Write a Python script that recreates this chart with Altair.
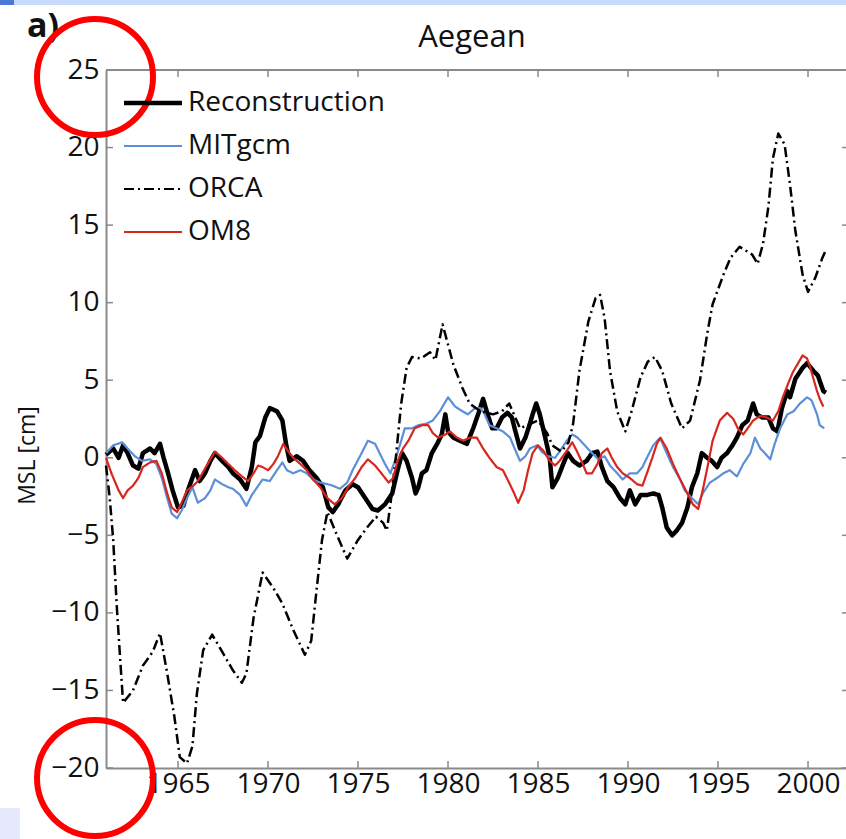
import altair as alt
import pandas as pd

# ---------------- data ----------------
rec_year = [1961.0, 1961.4, 1961.7, 1961.95, 1962.2, 1962.5, 1962.8, 1963.05, 1963.45, 1963.7,
            1964.0, 1964.2, 1964.45, 1964.7, 1965.0, 1965.3, 1965.55, 1965.95, 1966.2, 1966.5,
            1966.8, 1967.05, 1967.45, 1967.8, 1968.05, 1968.45, 1968.8, 1969.1, 1969.3, 1969.55,
            1969.85, 1970.1, 1970.5, 1970.8, 1971.0, 1971.2, 1971.6, 1971.95, 1972.3, 1972.7,
            1973.05, 1973.35, 1973.6, 1973.9, 1974.3, 1974.7, 1975.0, 1975.4, 1975.8, 1976.1,
            1976.5, 1976.9, 1977.2, 1977.45, 1977.7, 1978.0, 1978.2, 1978.35, 1978.55, 1978.8,
            1979.1, 1979.4, 1979.65, 1979.85, 1980.0, 1980.3, 1980.65, 1981.05, 1981.4, 1981.7,
            1981.95, 1982.2, 1982.45, 1982.7, 1983.0, 1983.3, 1983.55, 1983.7, 1984.0, 1984.3,
            1984.55, 1984.7, 1984.9, 1985.1, 1985.4, 1985.65, 1985.8, 1986.1, 1986.4, 1986.65,
            1986.95, 1987.3, 1987.7, 1988.0, 1988.3, 1988.55, 1988.85, 1989.2, 1989.55, 1989.85,
            1990.1, 1990.4, 1990.7, 1991.05, 1991.4, 1991.7, 1991.9, 1992.15, 1992.45, 1992.7,
            1993.0, 1993.3, 1993.55, 1993.85, 1994.1, 1994.4, 1994.65, 1994.95, 1995.2, 1995.5,
            1995.8, 1996.05, 1996.35, 1996.65, 1996.95, 1997.15, 1997.45, 1997.8, 1998.05, 1998.3,
            1998.55, 1998.85, 1999.0, 1999.3, 1999.7, 1999.95, 2000.3, 2000.55, 2000.85, 2001.0]
rec_val = [0.2, 0.6, 0.0, 0.8, 0.3, -0.5, -0.7, 0.3, 0.6, 0.3,
           0.9, 0.0, -1.0, -2.1, -3.2, -3.1, -2.1, -0.8, -1.5, -1.0,
           -0.2, 0.3, -0.2, -0.6, -1.0, -1.4, -2.0, -0.6, 1.0, 1.4,
           2.6, 3.2, 3.0, 2.4, 0.9, -0.2, 0.1, -0.2, -0.8, -1.3,
           -1.9, -3.2, -3.5, -3.0, -2.1, -1.7, -1.9, -2.6, -3.3, -3.4,
           -3.0, -2.3, -0.8, 0.3, -0.2, -1.3, -2.3, -1.9, -1.0, -0.8,
           0.3, 0.9, 1.5, 2.8, 1.7, 1.3, 1.1, 0.9, 1.9, 2.9,
           3.8, 2.8, 1.9, 1.9, 2.6, 2.9, 2.6, 1.9, 0.6, 1.3,
           2.2, 2.8, 3.5, 2.8, 1.3, 0.0, -1.9, -1.3, -0.4, 0.3,
           -0.2, -0.5, -0.2, 0.3, 0.4, -0.6, -1.5, -1.9, -2.6, -3.0,
           -2.1, -3.0, -2.4, -2.4, -2.3, -2.4, -3.2, -4.5, -5.0, -4.7,
           -4.2, -3.2, -1.9, -1.0, 0.3, 0.0, -0.2, -0.6, 0.0, 0.3,
           0.8, 1.3, 2.1, 2.4, 3.5, 2.8, 2.6, 2.6, 1.9, 1.7,
           3.2, 4.3, 3.9, 5.1, 5.8, 6.1, 5.6, 5.3, 4.3, 4.2]

mit_year = [1961.0, 1961.4, 1961.9, 1962.2, 1962.6, 1963.0, 1963.45, 1963.8, 1964.1, 1964.4,
            1964.65, 1964.95, 1965.2, 1965.5, 1965.8, 1966.1, 1966.5, 1966.8, 1967.05, 1967.45,
            1967.8, 1968.05, 1968.45, 1968.8, 1969.1, 1969.4, 1969.7, 1970.1, 1970.5, 1970.8,
            1971.05, 1971.4, 1971.8, 1972.15, 1972.5, 1972.9, 1973.3, 1973.6, 1974.0, 1974.4,
            1974.7, 1975.2, 1975.55, 1975.95, 1976.2, 1976.5, 1976.8, 1977.05, 1977.35, 1977.6,
            1978.0, 1978.35, 1978.8, 1979.15, 1979.55, 1980.0, 1980.4, 1980.8, 1981.1, 1981.5,
            1981.8, 1982.0, 1982.3, 1982.7, 1983.05, 1983.45, 1983.7, 1984.0, 1984.3, 1984.55,
            1984.95, 1985.2, 1985.55, 1985.95, 1986.2, 1986.6, 1986.9, 1987.2, 1987.6, 1988.0,
            1988.35, 1988.7, 1989.0, 1989.4, 1989.7, 1990.1, 1990.5, 1990.8, 1991.05, 1991.4,
            1991.7, 1991.85, 1992.15, 1992.5, 1992.9, 1993.15, 1993.55, 1993.9, 1994.15, 1994.55,
            1994.95, 1995.3, 1995.65, 1996.05, 1996.4, 1996.8, 1997.05, 1997.35, 1997.6, 1997.9,
            1998.15, 1998.45, 1998.85, 1999.2, 1999.55, 1999.95, 2000.2, 2000.5, 2000.65, 2000.9]
mit_val = [0.3, 0.8, 1.0, 0.6, 0.1, -0.2, -0.1, -0.4, -1.3, -2.6,
           -3.6, -3.9, -3.4, -2.6, -1.9, -2.9, -2.6, -2.1, -1.4, -1.7,
           -1.9, -2.0, -2.4, -3.1, -2.4, -1.9, -1.4, -1.5, -0.8, -0.3,
           -0.8, -1.0, -0.8, -1.0, -1.4, -1.6, -1.7, -1.8, -2.0, -1.6,
           -0.8, 0.3, 1.1, 0.9, 0.3, -0.4, -1.0, -0.2, 0.9, 1.9,
           1.9, 2.1, 2.2, 2.4, 3.0, 3.9, 3.3, 3.0, 2.8, 3.2,
           3.2, 2.9, 2.1, 1.9, 1.7, 1.3, 0.6, -0.2, 0.1, 0.6,
           0.8, 0.4, 0.1, 0.0, 0.4, 1.1, 1.5, 1.3, 0.8, 0.3,
           -0.1, 0.1, -0.5, -1.0, -1.4, -1.0, -1.0, -0.6, 0.0, 0.8,
           1.2, 1.1, 0.3, -0.6, -1.4, -2.1, -2.6, -3.0, -2.3, -1.6,
           -1.3, -1.0, -0.8, -1.2, -0.4, 0.3, 1.3, 0.6, 0.3, -0.1,
           0.9, 1.9, 2.8, 3.0, 3.5, 3.9, 3.7, 2.8, 2.1, 1.9]

orca_year = [1961.0, 1961.2, 1961.4, 1961.6, 1961.8, 1961.95, 1962.5, 1963.05, 1963.6, 1964.0,
             1964.4, 1964.8, 1965.1, 1965.5, 1965.8, 1966.05, 1966.4, 1966.9, 1967.5, 1968.05,
             1968.55, 1968.8, 1969.2, 1969.7, 1970.3, 1970.8, 1971.4, 1972.05, 1972.4, 1972.7,
             1973.0, 1973.3, 1973.8, 1974.4, 1975.0, 1975.5, 1976.0, 1976.4, 1976.6, 1976.8,
             1977.1, 1977.4, 1977.7, 1978.0, 1978.5, 1979.0, 1979.3, 1979.7, 1980.3, 1980.8,
             1981.2, 1981.8, 1982.5, 1983.0, 1983.4, 1984.0, 1984.6, 1985.0, 1985.5, 1985.8,
             1986.3, 1986.7, 1986.95, 1987.3, 1987.8, 1988.2, 1988.45, 1988.7, 1989.0, 1989.4,
             1989.85, 1990.2, 1990.7, 1991.1, 1991.5, 1991.9, 1992.4, 1993.0, 1993.45, 1994.0,
             1994.4, 1994.7, 1995.3, 1995.7, 1996.2, 1996.9, 1997.2, 1997.5, 1997.8, 1998.05,
             1998.35, 1998.7, 1999.0, 1999.3, 1999.7, 2000.0, 2000.4, 2000.8, 2001.0]
orca_val = [-0.5, -2.5, -5.3, -9.6, -13.2, -15.8, -15.0, -13.4, -12.5, -11.3,
            -13.9, -16.7, -19.3, -19.7, -18.6, -15.2, -12.4, -11.4, -12.6, -13.7,
            -14.5, -13.9, -10.3, -7.4, -8.4, -9.4, -11.1, -12.7, -11.8, -8.5,
            -5.3, -3.5, -4.9, -6.5, -5.3, -4.5, -3.8, -4.2, -4.7, -3.0,
            0.0, 3.5, 5.8, 6.5, 6.4, 6.8, 6.3, 8.6, 6.0, 4.5,
            3.5, 3.0, 2.8, 3.0, 3.5, 1.9, 2.2, 2.4, 1.6, 0.8,
            0.4, 1.0, 2.2, 5.6, 8.8, 10.3, 10.5, 9.0, 5.6, 3.0,
            1.7, 3.0, 5.2, 6.2, 6.5, 5.6, 3.5, 1.9, 2.4, 5.0,
            8.0, 9.9, 11.8, 12.9, 13.6, 13.1, 12.5, 13.8, 16.2, 19.3,
            20.9, 20.2, 17.6, 14.6, 11.8, 10.7, 11.6, 12.9, 13.4]

om8_year = [1961.0, 1961.3, 1961.7, 1961.95, 1962.2, 1962.5, 1962.8, 1963.05, 1963.45, 1963.8,
            1964.1, 1964.4, 1964.65, 1964.95, 1965.2, 1965.5, 1965.85, 1966.1, 1966.5, 1966.8,
            1967.05, 1967.45, 1967.8, 1968.15, 1968.55, 1968.9, 1969.2, 1969.45, 1969.7, 1970.0,
            1970.3, 1970.55, 1970.85, 1971.1, 1971.4, 1971.8, 1972.15, 1972.5, 1972.9, 1973.3,
            1973.7, 1974.1, 1974.45, 1974.85, 1975.2, 1975.55, 1975.95, 1976.3, 1976.7, 1976.95,
            1977.2, 1977.5, 1977.8, 1978.15, 1978.55, 1978.9, 1979.15, 1979.45, 1979.85, 1980.1,
            1980.5, 1980.85, 1981.2, 1981.6, 1981.95, 1982.3, 1982.7, 1983.05, 1983.35, 1983.6,
            1983.9, 1984.2, 1984.45, 1984.7, 1985.0, 1985.3, 1985.65, 1985.95, 1986.2, 1986.6,
            1986.9, 1987.15, 1987.45, 1987.7, 1988.0, 1988.3, 1988.55, 1988.85, 1989.1, 1989.4,
            1989.7, 1990.1, 1990.5, 1990.8, 1991.05, 1991.35, 1991.6, 1991.8, 1992.15, 1992.5,
            1992.9, 1993.3, 1993.6, 1993.9, 1994.15, 1994.45, 1994.7, 1995.1, 1995.5, 1995.85,
            1996.1, 1996.4, 1996.65, 1996.95, 1997.35, 1997.7, 1998.05, 1998.35, 1998.6, 1998.9,
            1999.15, 1999.45, 1999.7, 1999.95, 2000.1, 2000.3, 2000.5, 2000.65, 2000.85]
om8_val = [0.0, -1.0, -2.1, -2.6, -2.1, -1.8, -1.3, -0.6, -0.3, -0.2,
           -1.0, -2.3, -3.2, -3.5, -2.9, -2.1, -1.8, -1.5, -0.7, -0.1,
           0.4, 0.0, -0.4, -0.8, -1.2, -1.5, -1.0, -0.5, -0.6, -0.8,
           -0.4, 0.1, 0.9, 0.45, 0.0, -0.4, -0.8, -1.4, -1.9, -2.6,
           -3.0, -2.6, -1.9, -1.3, -0.6, -0.1, -0.5, -1.0, -1.6, -1.3,
           -0.2, 0.6, 1.1, 1.9, 2.1, 2.1, 1.6, 1.3, 1.5, 1.7,
           1.3, 1.1, 1.3, 1.3, 0.6, 0.0, -0.6, -0.8, -1.5, -2.1,
           -2.9, -2.1, -0.8, 0.3, 0.8, 0.45, -0.2, -0.5, -0.2, 0.45,
           1.0, 0.45, -0.3, -1.0, -1.0, -0.4, 0.3, 0.6, 0.0, -0.6,
           -1.0, -1.3, -1.7, -1.8, -1.0, 0.0, 0.9, 1.3, 0.6, -0.4,
           -1.4, -2.3, -3.0, -3.3, -2.1, -0.4, 1.1, 2.4, 2.9, 2.5,
           1.9, 1.5, 1.9, 2.4, 2.7, 2.6, 2.4, 3.0, 3.9, 4.8,
           5.5, 6.1, 6.6, 6.4, 5.9, 5.1, 4.3, 3.8, 3.3]

series_names = ["Reconstruction", "MITgcm", "ORCA", "OM8"]
series_colors = ["#000000", "#5b8fd8", "#000000", "#d7261e"]
series_dash = [[1, 0], [1, 0], [10, 4, 2, 4], [1, 0]]
series_width = [4.5, 2.2, 2.5, 2.2]

x_ticks = [1965, 1970, 1975, 1980, 1985, 1990, 1995, 2000]
y_ticks = [-20, -15, -10, -5, 0, 5, 10, 15, 20, 25]

# ---------------- tables ----------------
rows = []
for name, yrs, vals, w in zip(series_names,
                              [rec_year, mit_year, orca_year, om8_year],
                              [rec_val, mit_val, orca_val, om8_val],
                              series_width):
    for yr, v in zip(yrs, vals):
        rows.append({"series": name, "year": yr, "msl": v, "lw": w})
df = pd.DataFrame(rows)
xt = pd.DataFrame({"year": x_ticks})
yt = pd.DataFrame({"v": y_ticks})

W, H = 740, 698
FONT = "Open Sans"
GRAY = "#8a8a8a"
TXT = "#111111"

xscale = alt.Scale(domain=[1961, 2002.11], nice=False, zero=False)
yscale = alt.Scale(domain=[-20, 25], nice=False, zero=False)

x_enc = alt.X("year:Q", scale=xscale,
              axis=alt.Axis(values=x_ticks, format="d", title=None, ticks=False, grid=False,
                            labelFont=FONT, labelFontSize=28, labelColor=TXT,
                            labelPadding=2, domainColor=GRAY, domainWidth=2,
                            labelFlush=False))
y_enc = alt.Y("msl:Q", scale=yscale,
              axis=alt.Axis(values=y_ticks, format="d", ticks=False, grid=False,
                            title="MSL [cm]", titleFont=FONT, titleFontSize=23,
                            titleFontWeight="normal", titleColor=TXT,
                            titleX=-79, titleY=385, titleAngle=270,
                            titleBaseline="middle", titleAlign="center",
                            labelFont=FONT, labelFontSize=28, labelColor=TXT,
                            labelPadding=7, domainColor=GRAY, domainWidth=2,
                            labelFlush=False))

legend = alt.Legend(
    title=None, orient="none", legendX=33, legendY=19,
    symbolType="stroke", symbolSize=3364,
    symbolStrokeWidth={"expr": "datum.value === 'Reconstruction' ? 4.5 : 2.2"},
    labelFont=FONT, labelFontSize=28, labelColor=TXT, labelOffset=21, labelLimit=500,
    rowPadding=15, padding=0,
)

lines = alt.Chart(df).mark_line(strokeJoin="round").encode(
    x=x_enc,
    y=y_enc,
    color=alt.Color("series:N", scale=alt.Scale(domain=series_names, range=series_colors),
                    legend=legend),
    strokeDash=alt.StrokeDash("series:N", scale=alt.Scale(domain=series_names, range=series_dash),
                              legend=legend),
    strokeWidth=alt.StrokeWidth("lw:Q", scale=None, legend=None),
)

# inward ticks (MATLAB style) drawn from the tick arrays
tick_bottom = alt.Chart(xt).mark_rule(color=GRAY, strokeWidth=1.5).encode(
    x=alt.X("year:Q", scale=xscale), y=alt.value(H), y2=alt.value(H - 7))
tick_top = alt.Chart(xt).mark_rule(color=GRAY, strokeWidth=1.5).encode(
    x=alt.X("year:Q", scale=xscale), y=alt.value(0), y2=alt.value(7))
tick_left = alt.Chart(yt).mark_rule(color=GRAY, strokeWidth=1.5).encode(
    y=alt.Y("v:Q", scale=yscale), x=alt.value(0), x2=alt.value(7))
tick_right = alt.Chart(yt).mark_rule(color=GRAY, strokeWidth=1.5).encode(
    y=alt.Y("v:Q", scale=yscale), x=alt.value(W - 4), x2=alt.value(W))
top_border = alt.Chart(xt).mark_rule(color=GRAY, strokeWidth=2).encode(
    x=alt.value(0), x2=alt.value(W), y=alt.value(0))

one = pd.DataFrame({"k": [0]})
title_txt = alt.Chart(one).mark_text(text="Aegean", font=FONT, fontSize=31, color=TXT,
                                     align="center", baseline="alphabetic").encode(
    x=alt.value(W / 2 - 4), y=alt.value(-23))
panel_txt = alt.Chart(one).mark_text(text="a)", font=FONT, fontSize=34, fontWeight="bold",
                                     color=TXT, align="left", baseline="alphabetic").encode(
    x=alt.value(-79), y=alt.value(-33))

# slide decorations
band = alt.Chart(one).mark_rect(color="#c6dafc").encode(
    x=alt.value(-106), x2=alt.value(W), y=alt.value(-70), y2=alt.value(-65))
band_dark = alt.Chart(one).mark_rect(color="#4a78d8").encode(
    x=alt.value(-106), x2=alt.value(-92), y=alt.value(-70), y2=alt.value(-65))
corner = alt.Chart(one).mark_rect(color="#e6e9fb").encode(
    x=alt.value(-106), x2=alt.value(-86), y=alt.value(H + 40), y2=alt.value(H + 71))

# red highlight circles around the 25 and -20 tick labels
circ_top = alt.Chart(one).mark_point(shape="circle", filled=False, color="#ff0000",
                                      strokeWidth=6, size=13456, opacity=1).encode(
    x=alt.value(-11), y=alt.Y(datum=y_ticks[-1], scale=yscale), yOffset=alt.value(7))
circ_bot = alt.Chart(one).mark_point(shape="circle", filled=False, color="#ff0000",
                                      strokeWidth=6, size=13456, opacity=1).encode(
    x=alt.value(-11), y=alt.Y(datum=y_ticks[0], scale=yscale), yOffset=alt.value(10))

chart = alt.layer(
    band, band_dark, corner, top_border, tick_bottom, tick_top, tick_left, tick_right,
    lines, title_txt, panel_txt, circ_top, circ_bot
).properties(
    width=W, height=H,
    autosize=alt.AutoSizeParams(type="none"),
    padding={"left": 106, "top": 70, "right": 0, "bottom": 71},
).configure_view(stroke=None).configure(background="white")

chart.save("out.html", embed_options={"renderer": "svg", "actions": False})
